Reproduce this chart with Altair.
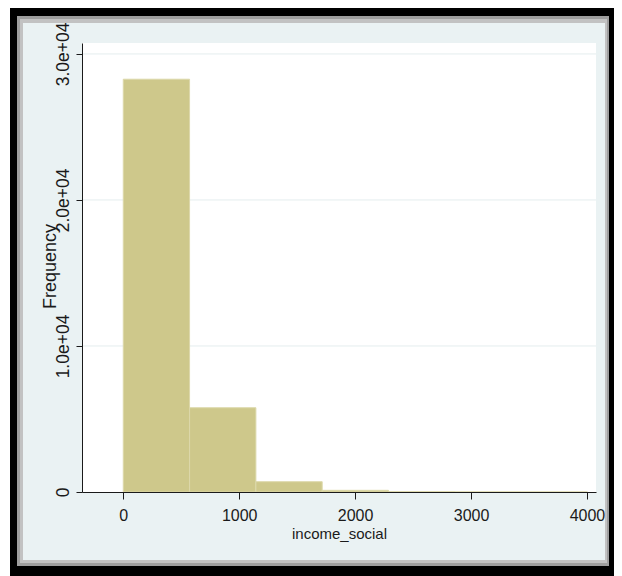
import json
import altair as alt
import pandas as pd

# ---- data ----
bin_edges = [0, 572, 1144, 1716, 2288, 2860, 3432, 4004]
frequencies = [28270, 5770, 705, 115, 20, 6, 2]
x_ticks = [0, 1000, 2000, 3000, 4000]
y_ticks = [0, 10000, 20000, 30000]
y_tick_labels = ["0", "1.0e+04", "2.0e+04", "3.0e+04"]
x_title = "income_social"
y_title = "Frequency"

bars_df = pd.DataFrame({"start": bin_edges[:-1], "end": bin_edges[1:], "freq": frequencies})
grid_df = pd.DataFrame({"v": y_ticks[1:]})
one = pd.DataFrame({"k": [0]})

W, H = 514, 449
x_scale = alt.Scale(domain=[-356, 4078], nice=False, zero=False)
y_scale = alt.Scale(domain=[0, 30750], nice=False, zero=False)

FONT = "Liberation Sans, Arial, sans-serif"
INK = "#1A1A1A"


def deco(x, x2, y, y2, color):
    return alt.Chart(one).mark_rect(color=color, strokeWidth=0).encode(
        x=alt.value(x), x2=alt.value(x2), y=alt.value(y), y2=alt.value(y2)
    )


frame = [
    deco(-72, 532, -35, 533, "#000000"),
    deco(-65, 527, -27, 523, "#9E9E9E"),
    deco(-62, 525, -24, 520, "#C2C2C2"),
    deco(-59, 523, -20, 517, "#EAF2F3"),
    deco(0, W, 0, H, "#FFFFFF"),
]

label_expr = "{}[indexof({}, datum.value)]".format(json.dumps(y_tick_labels), json.dumps(y_ticks))

x_axis = alt.Axis(
    values=x_ticks, format="d", title=x_title, grid=False,
    domainColor=INK, domainWidth=1, tickColor=INK, tickWidth=1, tickSize=7,
    labelFont=FONT, labelFontSize=16, labelColor=INK,
    labelBaseline="alphabetic", labelPadding=21, labelFlush=False, labelOverlap=False,
    titleFont=FONT, titleFontSize=15, titleFontWeight="normal", titleColor=INK,
    titleX=257, titleY=46, titleAlign="center", titleBaseline="alphabetic", zindex=1,
)

y_axis = alt.Axis(
    values=y_ticks, labelExpr=label_expr, title=y_title, grid=False,
    domainColor=INK, domainWidth=1, tickColor=INK, tickWidth=1, tickSize=6,
    labelAngle=270, labelAlign="center", labelBaseline="alphabetic", labelPadding=8,
    labelFont=FONT, labelFontSize=17.5, labelColor=INK, labelFlush=False, labelOverlap=False,
    titleFont=FONT, titleFontSize=18, titleFontWeight="normal", titleColor=INK,
    titleAngle=270, titleX=-27, titleY=223, titleAlign="center", titleBaseline="alphabetic",
    zindex=1,
)

grid = alt.Chart(grid_df).mark_rule(color="#E4EDEE", strokeWidth=1).encode(
    x=alt.value(0), x2=alt.value(W), y=alt.Y("v:Q", scale=y_scale, axis=y_axis, title=y_title)
)

bars = alt.Chart(bars_df).mark_rect(fill="#CEC88B", stroke="#DCD8AA", strokeWidth=1).encode(
    x=alt.X("start:Q", scale=x_scale, axis=x_axis, title=x_title),
    x2="end:Q",
    y=alt.Y("freq:Q", scale=y_scale, axis=y_axis, title=y_title),
    y2=alt.datum(0),
)

chart = alt.layer(*frame, grid, bars).properties(
    width=W,
    height=H,
    background="#FFFFFF",
    padding={"left": 74, "top": 35, "right": 18, "bottom": 84},
    autosize=alt.AutoSizeParams(type="none"),
).configure_view(strokeWidth=0)

chart.save("out.html", embed_options={"renderer": "svg", "actions": False})
